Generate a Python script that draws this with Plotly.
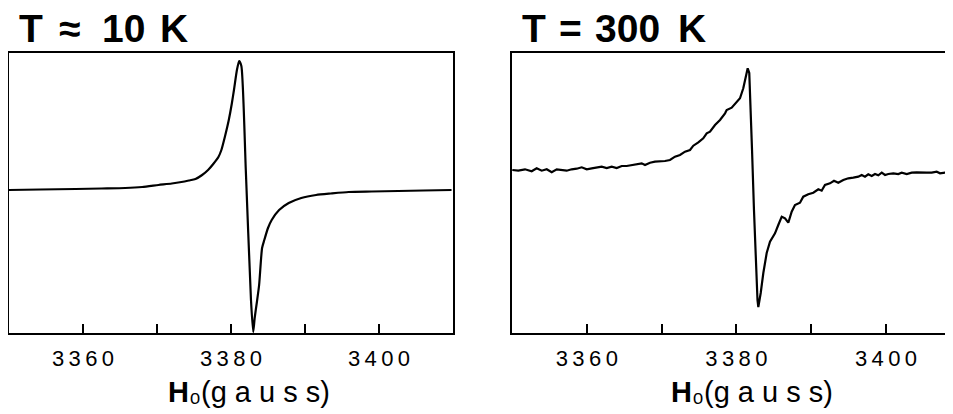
import plotly.graph_objects as go

# ---- data ----
field_10K = [3350.0, 3354.2, 3359.0, 3362.5, 3365.7, 3368.0, 3370.2, 3372.0, 3373.3, 3374.3,
             3375.2, 3376.1, 3376.9, 3377.6, 3378.3, 3378.7, 3379.2, 3379.7, 3380.1, 3380.4,
             3380.8, 3381.1, 3381.4, 3382.0, 3382.7, 3383.0, 3383.2, 3383.5, 3383.8, 3384.2,
             3384.5, 3385.0, 3385.5, 3386.5, 3387.8, 3389.5, 3391.5, 3393.5, 3395.9, 3399.0,
             3402.6, 3406.0, 3409.8]
signal_10K = [0, 0.5, 1, 1.5, 2, 3, 5, 6.5, 8, 9.5,
              11, 15, 20, 26, 33, 40, 54, 70, 86, 100,
              120, 129, 124, 20, -110, -142, -128, -112, -95, -58,
              -50, -38, -30, -20, -13, -8, -5, -3.5, -2, -1.5,
              -1, -0.5, 0]

field_300K = [3350.04, 3350.84, 3351.74, 3352.63, 3353.30, 3353.97, 3354.64, 3355.31, 3355.98, 3356.64,
              3357.31, 3357.98, 3358.65, 3359.32, 3359.99, 3360.66, 3361.32, 3361.99, 3362.66, 3363.33,
              3364.00, 3364.67, 3365.33, 3366.00, 3366.67, 3367.34, 3367.78, 3368.45, 3369.12, 3369.79,
              3370.45, 3371.12, 3371.79, 3372.46, 3373.13, 3373.80, 3374.24, 3374.91, 3375.57, 3376.03,
              3376.47, 3377.14, 3377.81, 3378.48, 3378.70, 3379.37, 3380.04, 3380.48, 3380.92, 3381.28,
              3381.51, 3381.72, 3381.88, 3382.09, 3382.35, 3382.62, 3382.82, 3382.93, 3383.25, 3383.60,
              3384.05, 3384.49, 3385.16, 3385.60, 3386.06, 3386.50, 3386.94, 3387.39, 3387.83, 3388.50,
              3388.94, 3389.61, 3390.28, 3390.95, 3391.40, 3391.84, 3392.51, 3393.05, 3393.62, 3394.29,
              3394.96, 3395.63, 3396.30, 3396.75, 3397.19, 3397.63, 3398.09, 3398.53, 3398.97, 3399.43,
              3399.87, 3400.31, 3400.98, 3401.64, 3402.10, 3402.77, 3403.44, 3404.10, 3404.77, 3405.44,
              3406.11, 3406.78, 3407.22, 3407.89, 3408.96]
signal_300K = [0, -0.7, 0.7, -1.3, 1.7, -0.7, 0.7, -2.3, 0.7, 0,
               -0.7, 0.7, 1.3, 2.7, 0.7, 1.7, 2.3, 3.3, 2, 3.3,
               2, 4, 4, 4.7, 5.7, 6.7, 5, 7.3, 8.3, 8.3,
               9, 10, 13.3, 15, 18.3, 20, 24.3, 27.7, 31.7, 36.7,
               38.3, 45, 50, 56.7, 60, 62.3, 67.7, 71.7, 81.7, 93.3,
               101.7, 97, 70, 20, -40, -100, -130, -137, -123, -103,
               -83, -71.7, -63.3, -55, -46.7, -48.3, -52.7, -41.7, -35, -32.7,
               -26.7, -24.3, -22.7, -19.3, -20.7, -15, -13.3, -10.7, -12.7, -10,
               -8.3, -7.7, -6.7, -5, -6.7, -4.3, -6, -4, -5.3, -2.7,
               -5, -4, -3.3, -4, -2.7, -4, -2.7, -2.3, -2.7, -2.7,
               -2.7, -1.7, -3.3, -2.7, -2.7]

tick_vals = [3360, 3380, 3400]
tick_text = ["3\u20093\u20096\u20090", "3\u20093\u20098\u20090", "3\u20094\u20090\u20090"]
minor_step = 10
title_words = [["T", "\u2248", "10", "K"], ["T", "=", "300", "K"]]
axis_label = "<b>H</b>\u2080(g\u2008a\u2008u\u2008s\u2008s)"

# page body has an 8px margin: draw the figure in the remaining area
OFF = 8
W, H = 953 - OFF, 414 - OFF
FONT = "Liberation Sans, Arial, Helvetica, sans-serif"

def px(x):
    return (x - OFF) / W

def py(y):
    return 1 - (y - OFF) / H

fig = go.Figure()
fig.add_trace(go.Scatter(x=field_10K, y=signal_10K, mode="lines",
                         line=dict(color="black", width=2.2, shape="spline", smoothing=0.6),
                         xaxis="x", yaxis="y", showlegend=False))
fig.add_trace(go.Scatter(x=field_300K, y=signal_300K, mode="lines",
                         line=dict(color="black", width=2.2),
                         xaxis="x2", yaxis="y2", showlegend=False))

ydom = [py(333), py(53)]
xcommon = dict(showline=True, linecolor="black", linewidth=1.5, mirror=True,
               ticks="inside", ticklen=9, tickwidth=1.5, tickcolor="black",
               tickvals=tick_vals, ticktext=tick_text, showgrid=False, zeroline=False,
               minor=dict(ticks="inside", ticklen=9, tickwidth=1.5, tickcolor="black",
                          tick0=3350, dtick=minor_step, showgrid=False),
               tickfont=dict(family=FONT, size=22, color="black"),
               ticklabelstandoff=5, fixedrange=True)

fig.update_layout(
    width=W, height=H, margin=dict(l=0, r=0, t=0, b=0),
    paper_bgcolor="white", plot_bgcolor="white",
    xaxis=dict(domain=[px(9), px(453)], range=[3350, 3410], anchor="y", **xcommon),
    yaxis=dict(domain=ydom, range=[-143, 137], anchor="x", showline=True, mirror=True,
               linecolor="black", linewidth=1.5, showticklabels=False, ticks="",
               showgrid=False, zeroline=False),
    xaxis2=dict(domain=[px(512), 1.0], range=[3350, 3350 + 441 / 7.48], anchor="y2", **xcommon),
    yaxis2=dict(domain=ydom, range=[-163, 117], anchor="x2", showline=True, mirror=False,
                linecolor="black", linewidth=1.5, showticklabels=False, ticks="",
                showgrid=False, zeroline=False),
)

ann = []
word_centers = [[30.5, 69, 123.5, 174], [533.5, 570, 627, 692]]
for words, centers in zip(title_words, word_centers):
    for w, cx in zip(words, centers):
        ann.append(dict(x=px(cx), y=py(29), xref="paper", yref="paper", xanchor="center",
                        yanchor="middle", text="<b>" + w + "</b>", showarrow=False,
                        font=dict(family=FONT, size=39, color="black")))
for cx in [249, 752]:
    ann.append(dict(x=px(cx), y=py(392), xref="paper", yref="paper", xanchor="center",
                    yanchor="middle", text=axis_label, showarrow=False,
                    font=dict(family=FONT, size=29, color="black")))
fig.update_layout(annotations=ann)

fig.write_html("out.html")
